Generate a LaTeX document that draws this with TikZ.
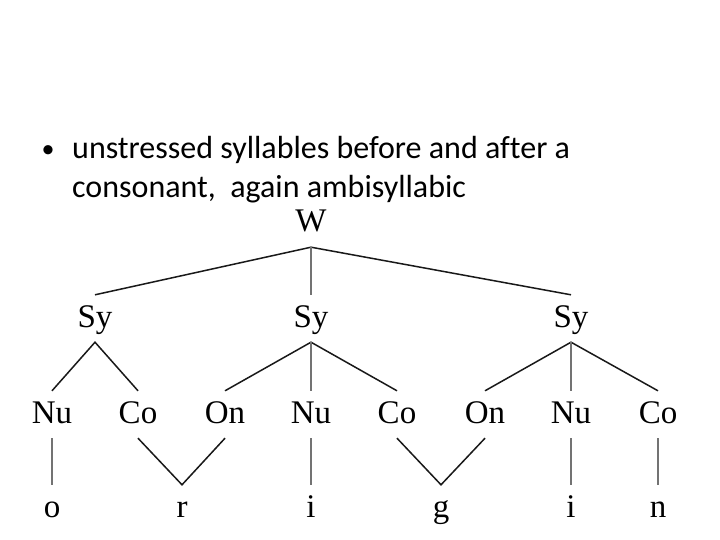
\documentclass[tikz,border=0pt]{standalone}
\usepackage{fontspec}
\setmainfont{Liberation Serif}
\newfontfamily\bulletfont[Ligatures=NoCommon]{Carlito}
\begin{document}
\begin{tikzpicture}[x=1pt,y=-1pt,
  lbl/.style={font=\fontsize{33}{33}\selectfont, text height=24pt, text depth=7pt, inner xsep=0pt, inner ysep=8pt, anchor=base},
  btxt/.style={font=\bulletfont\fontsize{32}{38}\selectfont, inner sep=0pt, anchor=base west},
  bdot/.style={font=\bulletfont\fontsize{26}{26}\selectfont, inner sep=0pt, anchor=base},
  br/.style={line width=1.5pt, black!90},
  vt/.style={line width=1.3pt, black!55}]
\useasboundingbox (0,0) rectangle (720,540);
\fill[white] (0,0) rectangle (720,540);
% bullet text
\node[bdot] (bul) at (48,158) {•};
\node[btxt] (l1) at (72,159) {unstressed syllables before and after a};
\node[btxt] (l2) at (72,197) {consonant,\ \ again ambisyllabic};
% tree
\node[lbl] (W) at (311,232) {W};
\node[lbl] (S1) at (95,327) {Sy};
\node[lbl] (S2) at (311,327) {Sy};
\node[lbl] (S3) at (571,327) {Sy};
\node[lbl] (N1) at (52,423) {Nu};
\node[lbl] (C1) at (138,423) {Co};
\node[lbl] (O1) at (225,423) {On};
\node[lbl] (N2) at (311,423) {Nu};
\node[lbl] (C2) at (397,423) {Co};
\node[lbl] (O2) at (485,423) {On};
\node[lbl] (N3) at (571,423) {Nu};
\node[lbl] (C3) at (658,423) {Co};
\node[lbl] (o) at (52,517) {o};
\node[lbl] (r) at (182,517) {r};
\node[lbl] (i1) at (311,517) {i};
\node[lbl] (g) at (441,517) {g};
\node[lbl] (i2) at (571,517) {i};
\node[lbl] (n) at (658,517) {n};
% connectors
\draw[br] (S1.north) -- (W.south) -- (S3.north);
\draw[vt] (W.south) -- (S2.north);
\draw[br] (N1.north) -- (S1.south) -- (C1.north);
\draw[br] (O1.north) -- (S2.south) -- (C2.north);
\draw[vt] (S2.south) -- (N2.north);
\draw[br] (O2.north) -- (S3.south) -- (C3.north);
\draw[vt] (S3.south) -- (N3.north);
\draw[vt] (N1.south) -- (o.north);
\draw[br] (C1.south) -- (r.north) -- (O1.south);
\draw[vt] (N2.south) -- (i1.north);
\draw[br] (C2.south) -- (g.north) -- (O2.south);
\draw[vt] (N3.south) -- (i2.north);
\draw[vt] (C3.south) -- (n.north);
\end{tikzpicture}
\end{document}
